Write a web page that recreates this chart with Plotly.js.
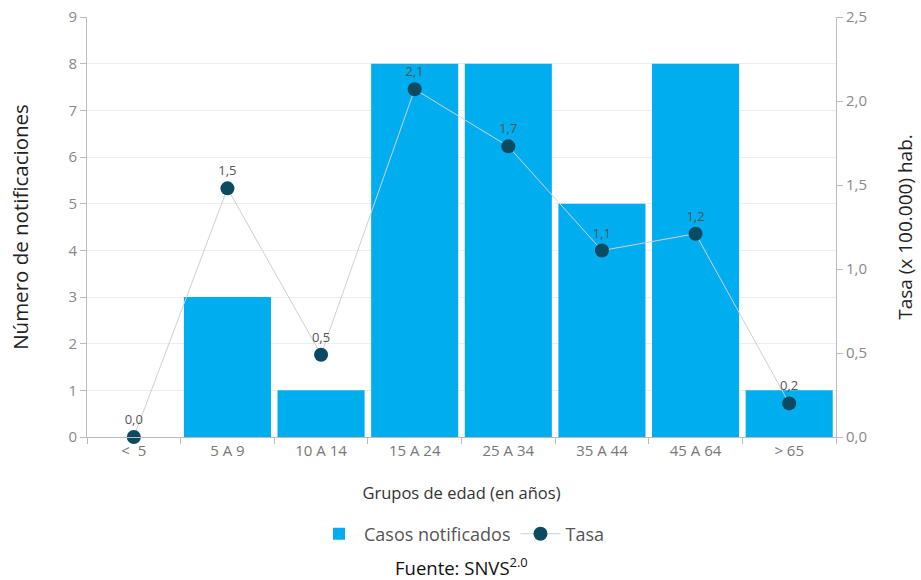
<!DOCTYPE html>
<html>
<head>
<meta charset="utf-8">
<script src="https://cdn.plot.ly/plotly-3.0.1.min.js"></script>
<style>html,body{margin:0;padding:0;background:#fff;}#chart{width:921px;height:580px;}</style>
</head>
<body>
<div id="chart"></div>
<script>
const categories = ["<  5", "5 A 9", "10 A 14", "15 A 24", "25 A 34", "35 A 44", "45 A 64", "> 65"];
const casos = [0, 3, 1, 8, 8, 5, 8, 1];
const tasa = [0.0, 1.48, 0.49, 2.07, 1.73, 1.11, 1.21, 0.2];
const tasaLabels = tasa.map(v => v.toFixed(1).replace('.', ','));

const FONT = "'Open Sans', sans-serif";

const traces = [
  {
    type: 'bar', name: 'Casos notificados', x: categories, y: casos,
    marker: {color: '#00AEEF'}, yaxis: 'y', hoverinfo: 'y'
  },
  {
    type: 'scatter', mode: 'lines+markers+text', name: 'Tasa', x: categories, y: tasa,
    yaxis: 'y2', text: tasaLabels, textposition: 'top center',
    textfont: {family: FONT, size: 13, color: '#555'},
    line: {color: '#d0d0d0', width: 1},
    marker: {color: '#0B4A60', size: 14}, cliponaxis: false
  }
];

const layout = {
  width: 921, height: 580,
  margin: {l: 87, r: 85, t: 17, b: 143},
  paper_bgcolor: '#fff', plot_bgcolor: '#fff',
  font: {family: FONT, color: '#888', size: 14},
  separators: ',.',
  bargap: 0.07,
  showlegend: true,
  legend: {orientation: 'h', x: 0.5, xanchor: 'center', y: -0.231, yanchor: 'middle',
           font: {family: FONT, size: 18, color: '#555'}, traceorder: 'normal', itemwidth: 40},
  xaxis: {
    type: 'category', tickson: 'boundaries', ticks: 'outside', ticklen: 6, tickcolor: '#bbb',
    showline: true, linecolor: '#bbb', linewidth: 1, showgrid: false,
    tickfont: {family: FONT, size: 15, color: '#777'},
    title: {text: 'Grupos de edad (en años)', font: {family: FONT, size: 16.5, color: '#333'}, standoff: 28}
  },
  yaxis: {
    range: [0, 9], dtick: 1, showgrid: true, gridcolor: '#eeeeee', zeroline: false,
    showline: true, linecolor: '#bbb', ticks: 'outside', ticklen: 6, tickcolor: '#bbb',
    tickfont: {family: FONT, size: 15, color: '#888'},
    title: {text: 'Número de notificaciones', font: {family: FONT, size: 20.5, color: '#222'}, standoff: 34}
  },
  yaxis2: {
    overlaying: 'y', side: 'right', range: [0, 2.5], dtick: 0.5, tickformat: '.1f',
    showgrid: false, zeroline: false, showline: true, linecolor: '#bbb',
    ticks: 'outside', ticklen: 6, tickcolor: '#bbb',
    tickfont: {family: FONT, size: 15, color: '#888'},
    title: {text: 'Tasa (x 100.000) hab.', font: {family: FONT, size: 19, color: '#222'}, standoff: 32}
  },
  annotations: [
    {text: 'Fuente: SNVS<sup>2.0</sup>', xref: 'paper', yref: 'paper', x: 0.5, y: -0.308,
     xanchor: 'center', yanchor: 'middle', showarrow: false,
     font: {family: FONT, size: 18.5, color: '#111'}}
  ]
};

Plotly.newPlot('chart', traces, layout, {displayModeBar: false, staticPlot: true});
</script>
</body>
</html>
